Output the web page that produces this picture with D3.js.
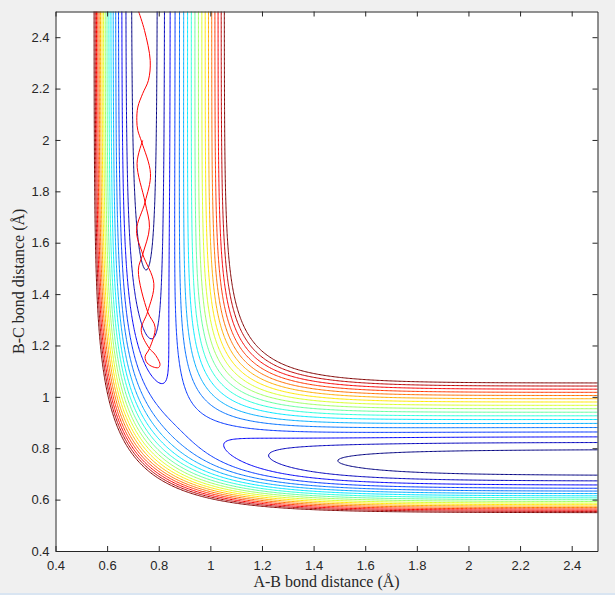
<!DOCTYPE html>
<html>
<head>
<meta charset="utf-8">
<script src="https://cdn.jsdelivr.net/npm/d3@7"></script>
<style>
  body { margin: 0; background: #f0f0f0; }
  svg { display: block; }
</style>
</head>
<body>
<div id="pes"></div>
<script>
// LEPS surface: H2 Morse parameters [De (eV), beta (1/A), re (A)] and Sato constant
var morse = [4.746, 1.942, 0.742];
var sato = 0.19;

// contour energies (eV)
var levels = [-4.700, -4.645, -4.590, -4.535, -4.480, -4.425, -4.370, -4.315, -4.260,
              -4.205, -4.150, -4.095, -4.040, -3.985, -3.930, -3.875, -3.820, -3.765];

// tick labels
var xTicks = [0.4, 0.6, 0.8, 1, 1.2, 1.4, 1.6, 1.8, 2, 2.2, 2.4];
var yTicks = [0.4, 0.6, 0.8, 1, 1.2, 1.4, 1.6, 1.8, 2, 2.2, 2.4];

// trajectory (A-B, B-C distances)
var trajAB = [0.738, 0.716, 0.747, 0.764, 0.738, 0.721, 0.757, 0.786, 0.764, 0.747, 0.755,
              0.777, 0.799, 0.805, 0.796, 0.781, 0.764, 0.732, 0.757, 0.781, 0.738, 0.714,
              0.747, 0.768, 0.734, 0.719, 0.715, 0.719, 0.738, 0.760, 0.767, 0.745, 0.722];
var trajBC = [1.998, 1.909, 1.758, 1.660, 1.555, 1.493, 1.331, 1.271, 1.188, 1.156, 1.132,
              1.117, 1.114, 1.126, 1.149, 1.171, 1.188, 1.259, 1.331, 1.441, 1.555, 1.648,
              1.758, 1.869, 1.992, 2.037, 2.076, 2.128, 2.181, 2.232, 2.309, 2.426, 2.500];

var W = 615, H = 595;
var margin = {top: 11.5, right: 17.5, bottom: 44, left: 55.5};
var ink = '#262626';

var svg = d3.select('#pes').append('svg')
    .attr('width', W)
    .attr('height', H);

svg.append('rect')
    .attr('width', W)
    .attr('height', H)
    .attr('fill', '#f0f0f0');
svg.append('rect')
    .attr('y', H - 2)
    .attr('width', W)
    .attr('height', 2)
    .attr('fill', '#d9e5f2');

var x = d3.scaleLinear().domain([0.4, 2.5]).range([margin.left, W - margin.right]);
var y = d3.scaleLinear().domain([0.4, 2.5]).range([H - margin.bottom, margin.top]);

svg.append('rect')
    .attr('x', x(0.4))
    .attr('y', y(2.5))
    .attr('width', x(2.5) - x(0.4))
    .attr('height', y(0.4) - y(2.5))
    .attr('fill', 'white');

svg.append('clipPath').attr('id', 'plotclip')
  .append('rect')
    .attr('x', x(0.4))
    .attr('y', y(2.5))
    .attr('width', x(2.5) - x(0.4))
    .attr('height', y(0.4) - y(2.5));

// potential on a grid a bit larger than the axes
var De = morse[0], beta = morse[1], re = morse[2];
function pairTerms(r) {
  var u = Math.exp(-beta * (r - re));
  var e1 = De * (u * u - 2 * u);
  var e3 = De / 2 * (u * u + 2 * u);
  return [(e1 * (1 + sato) + e3 * (1 - sato)) / 2, (e1 * (1 + sato) - e3 * (1 - sato)) / 2];
}
function leps(r1, r2) {
  var a = pairTerms(r1), b = pairTerms(r2), c = pairTerms(r1 + r2);
  var q = a[0] + b[0] + c[0];
  var j = a[1] * a[1] + b[1] * b[1] + c[1] * c[1] - a[1] * b[1] - b[1] * c[1] - a[1] * c[1];
  return (q - Math.sqrt(j)) / (1 + sato);
}

var g0 = 0.3, gs = 0.005, n = 481;
var values = new Array(n * n);
for (var jj = 0; jj < n; jj++) {
  for (var ii = 0; ii < n; ii++) {
    values[jj * n + ii] = leps(g0 + ii * gs, g0 + jj * gs);
  }
}

var contours = d3.contours().size([n, n]).thresholds(levels)(values);

var gridToPlot = d3.geoTransform({
  point: function(px, py) {
    this.stream.point(x(g0 + (px - 0.5) * gs), y(g0 + (py - 0.5) * gs));
  }
});
var path = d3.geoPath(gridToPlot);

// jet colormap
var jet = d3.scaleLinear()
    .domain([0, 0.125, 0.375, 0.625, 0.875, 1])
    .range(['#000080', '#0000ff', '#00ffff', '#ffff00', '#ff0000', '#800000']);
var lmin = d3.min(levels), lmax = d3.max(levels);

var plot = svg.append('g').attr('clip-path', 'url(#plotclip)');

plot.selectAll('.contour')
  .data(contours)
  .enter().append('path')
    .attr('class', 'contour')
    .attr('d', path)
    .attr('fill', 'none')
    .attr('stroke', function(d) { return jet((d.value - lmin) / (lmax - lmin)); })
    .attr('stroke-width', 1);

// trajectory
var line = d3.line()
    .x(function(d) { return x(d[0]); })
    .y(function(d) { return y(d[1]); })
    .curve(d3.curveCatmullRom.alpha(0.5));

plot.append('path')
    .datum(d3.zip(trajAB, trajBC))
    .attr('d', line)
    .attr('fill', 'none')
    .attr('stroke', '#ff0000')
    .attr('stroke-width', 1);

// axes, ticks inside on all four sides
var fmt = function(d) { return String(d); };
function styleAxis(sel) {
  sel.selectAll('path').attr('stroke', ink).attr('stroke-width', 1);
  sel.selectAll('line').attr('stroke', ink);
  sel.selectAll('text')
      .attr('fill', ink)
      .attr('font-family', 'Liberation Sans, Arial, sans-serif')
      .attr('font-size', 13);
}

svg.append('g')
    .attr('transform', 'translate(0,' + y(0.4) + ')')
    .call(d3.axisBottom(x).tickValues(xTicks).tickFormat(fmt).tickSizeInner(-5).tickSizeOuter(0).tickPadding(10))
    .call(styleAxis);
svg.append('g')
    .attr('transform', 'translate(0,' + y(2.5) + ')')
    .call(d3.axisTop(x).tickValues(xTicks).tickFormat('').tickSizeInner(-5).tickSizeOuter(0))
    .call(styleAxis);
svg.append('g')
    .attr('transform', 'translate(' + x(0.4) + ',0)')
    .call(d3.axisLeft(y).tickValues(yTicks).tickFormat(fmt).tickSizeInner(-5).tickSizeOuter(0).tickPadding(6))
    .call(styleAxis);
svg.append('g')
    .attr('transform', 'translate(' + x(2.5) + ',0)')
    .call(d3.axisRight(y).tickValues(yTicks).tickFormat('').tickSizeInner(-5).tickSizeOuter(0))
    .call(styleAxis);

// axis titles
svg.append('text')
    .attr('x', (x(0.4) + x(2.5)) / 2)
    .attr('y', 587)
    .attr('text-anchor', 'middle')
    .attr('font-family', 'Liberation Serif, serif')
    .attr('font-size', 16)
    .attr('fill', ink)
    .text('A-B bond distance (\u00C5)');

svg.append('text')
    .attr('transform', 'translate(24,' + (y(0.4) + y(2.5)) / 2 + ') rotate(-90)')
    .attr('text-anchor', 'middle')
    .attr('font-family', 'Liberation Serif, serif')
    .attr('font-size', 16)
    .attr('fill', ink)
    .text('B-C bond distance (\u00C5)');
</script>
</body>
</html>
